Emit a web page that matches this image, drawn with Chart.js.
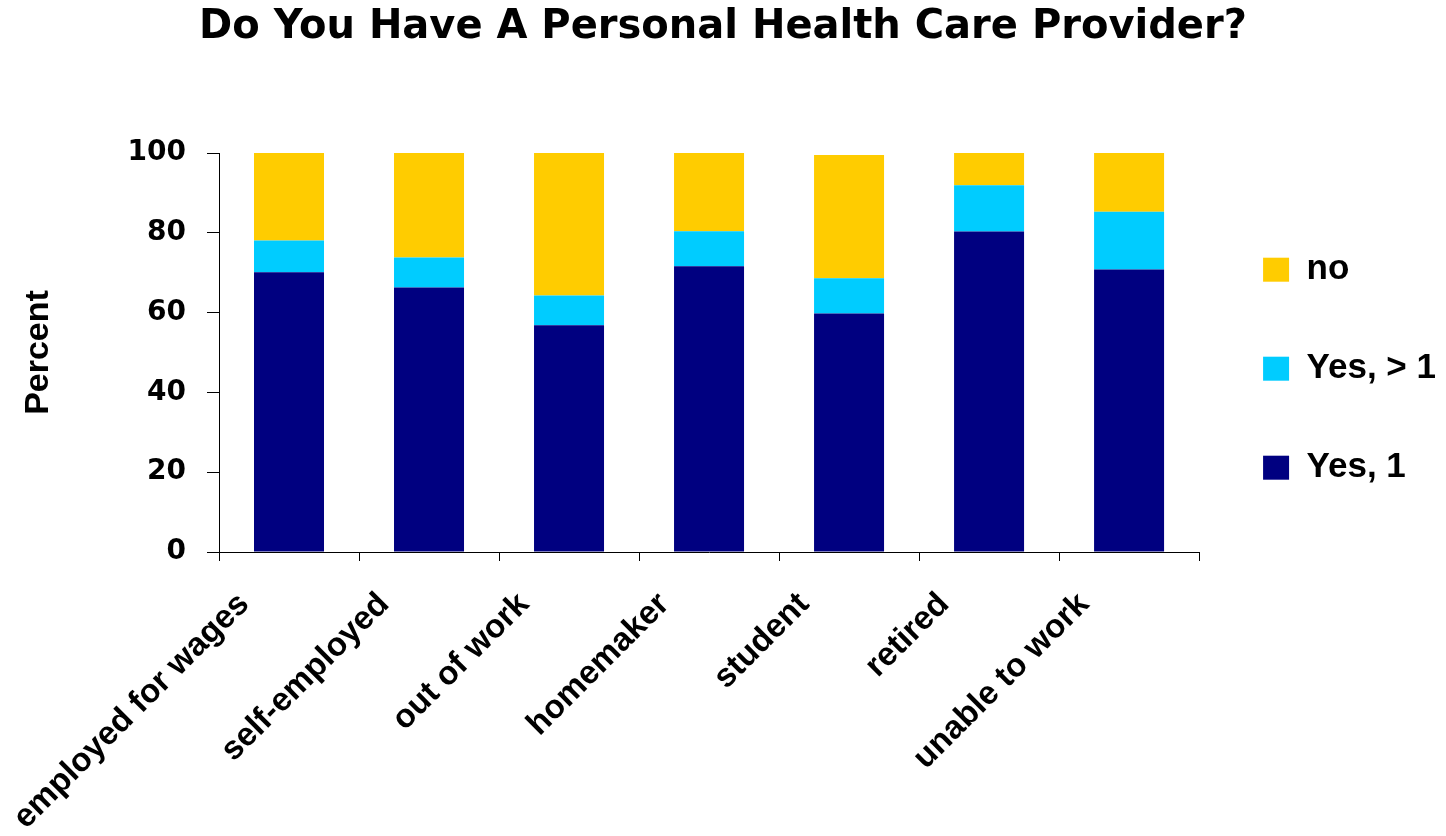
<!DOCTYPE html>
<html><head><meta charset="utf-8">
<script src="https://cdn.jsdelivr.net/npm/chart.js@4"></script>
<style>
html,body{margin:0;padding:0;background:#fff;overflow:hidden;}
#wrap{position:relative;width:1446px;height:836px;}
</style></head>
<body><div id="wrap"><canvas id="c"></canvas></div>
<script>
const categories = ["employed for wages", "self-employed", "out of work", "homemaker", "student", "retired", "unable to work"];
const seriesNames = ["Yes, 1", "Yes, > 1", "no"];
const yesOne = [70.1, 66.3, 56.8, 71.6, 59.8, 80.3, 70.8];
const yesMore = [8.0, 7.5, 7.5, 8.8, 8.8, 11.6, 14.5];
const noProvider = [21.9, 26.2, 35.7, 19.6, 30.9, 8.1, 14.7];
const yTickValues = [0, 20, 40, 60, 80, 100];

const colors = ["#000080", "#00CCFF", "#FFCC00"];
const seriesData = [yesOne, yesMore, noProvider];

new Chart(document.getElementById('c'), {
  type: 'bar',
  data: {
    labels: categories,
    datasets: seriesNames.map((n, i) => ({
      label: n,
      data: seriesData[i],
      backgroundColor: colors[i],
      borderWidth: 0,
      barPercentage: 0.5,
      categoryPercentage: 1.0
    }))
  },
  options: {
    responsive: true,
    maintainAspectRatio: false,
    animation: false,
    devicePixelRatio: 1,
    layout: { padding: 0 },
    plugins: {
      title: {
        display: true,
        text: 'Do You Have A Personal Health Care Provider?',
        color: '#000',
        font: { family: 'DejaVu Sans', weight: 'bold', size: 40 },
        padding: { top: 4, bottom: 101 }
      },
      legend: {
        display: true,
        position: 'right',
        reverse: true,
        fullSize: false,
        align: 'center',
        title: {
          display: true,
          text: ' ',
          font: { size: 12 },
          padding: 9
        },
        labels: {
          color: '#000',
          font: { family: 'Liberation Sans', weight: 'bold', size: 35 },
          boxWidth: 26,
          boxHeight: 24,
          padding: 64
        }
      },
      tooltip: { enabled: false }
    },
    scales: {
      x: {
        stacked: true,
        grid: { display: true, drawOnChartArea: false, drawTicks: true, tickLength: 9, color: '#000', offset: true },
        border: { display: true, color: '#000', width: 1 },
        ticks: {
          color: '#000',
          font: { family: 'Liberation Sans', weight: 'bold', size: 33 },
          minRotation: 45, maxRotation: 45,
          labelOffset: -45,
          padding: 24,
          autoSkip: false
        },
        afterFit: (s) => { s.height = 284; }
      },
      y: {
        stacked: true,
        min: 0, max: 100,
        afterBuildTicks: (s) => { s.ticks = yTickValues.map(v => ({ value: v })); },
        grid: { display: true, drawOnChartArea: false, drawTicks: true, tickLength: 12, color: '#000' },
        border: { display: true, color: '#000', width: 1 },
        ticks: {
          color: '#000',
          font: { family: 'DejaVu Sans', weight: 'bold', size: 28 },
          padding: 21
        },
        title: {
          display: true,
          text: 'Percent',
          color: '#000',
          font: { family: 'Liberation Sans', weight: 'bold', size: 34 },
          padding: { top: 18, bottom: 0 }
        },
        afterFit: (s) => { s.width = 219; }
      }
    }
  }
});
</script>
</body></html>
